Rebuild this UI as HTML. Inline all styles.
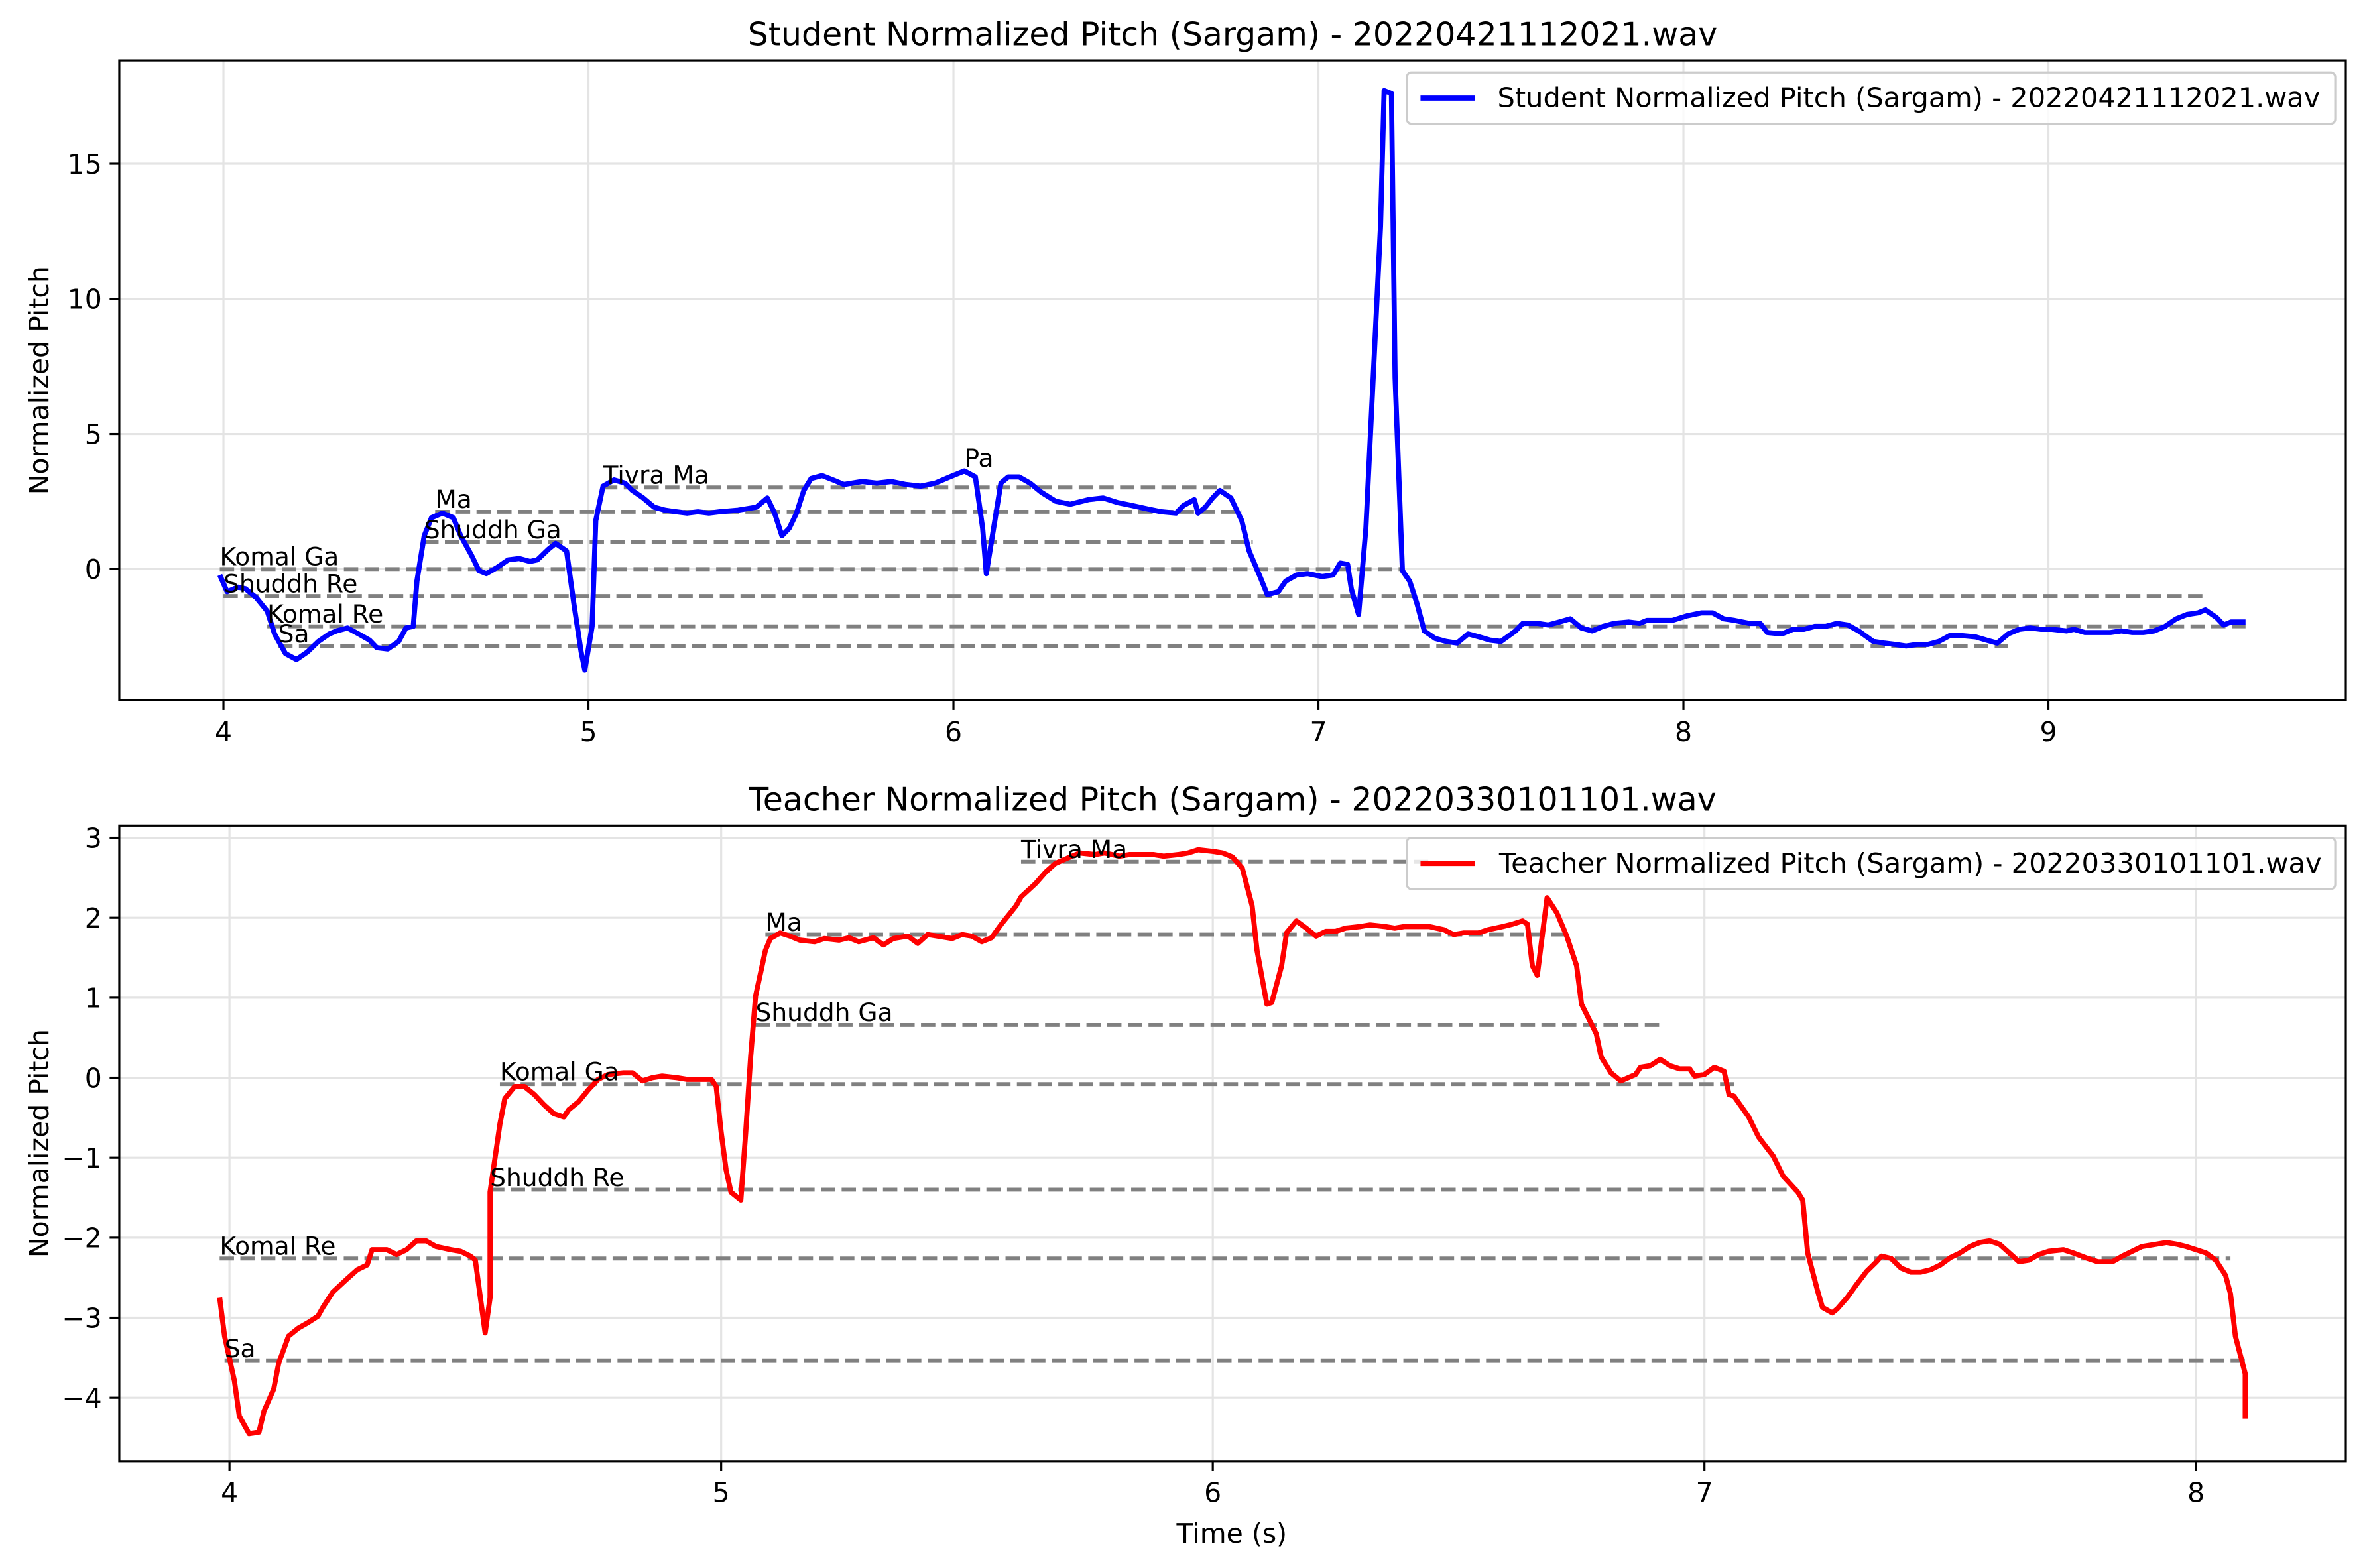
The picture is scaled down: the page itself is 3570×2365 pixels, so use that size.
<!DOCTYPE html>
<html><head><meta charset="utf-8"><style>
html,body{margin:0;padding:0;background:#fff;}
svg{display:block;font-family:"DejaVu Sans","Liberation Sans",sans-serif;}
</style></head><body>
<svg id="chart" width="3570" height="2365" viewBox="0 0 1568 1038.8" xmlns="http://www.w3.org/2000/svg">
<rect x="0" y="0" width="1568" height="1039" fill="#fff"/>
</svg>
<script>
// ---- Student data ----
const studentTime = [3.99,4.01,4.04,4.06,4.09,4.12,4.14,4.17,4.20,4.23,4.26,4.29,4.31,4.34,4.37,4.40,4.42,4.45,4.48,4.50,4.52,4.53,4.55,4.57,4.60,4.63,4.65,4.68,4.70,4.72,4.75,4.78,4.81,4.84,4.86,4.89,4.91,4.94,4.96,4.98,4.99,5.01,5.02,5.04,5.07,5.10,5.12,5.15,5.18,5.21,5.24,5.27,5.30,5.33,5.36,5.41,5.46,5.49,5.51,5.53,5.55,5.57,5.59,5.61,5.64,5.67,5.70,5.75,5.79,5.83,5.87,5.91,5.95,5.99,6.03,6.06,6.08,6.09,6.11,6.13,6.15,6.18,6.21,6.24,6.28,6.32,6.37,6.41,6.45,6.49,6.53,6.57,6.61,6.63,6.66,6.67,6.69,6.71,6.73,6.76,6.79,6.81,6.84,6.86,6.89,6.91,6.94,6.97,7.01,7.04,7.06,7.08,7.09,7.11,7.13,7.15,7.17,7.18,7.20,7.21,7.23,7.25,7.27,7.29,7.32,7.35,7.38,7.41,7.44,7.47,7.50,7.54,7.56,7.60,7.63,7.66,7.69,7.72,7.75,7.78,7.81,7.85,7.88,7.90,7.94,7.97,8.01,8.05,8.08,8.11,8.14,8.18,8.21,8.23,8.27,8.30,8.33,8.36,8.39,8.42,8.45,8.48,8.52,8.55,8.58,8.61,8.64,8.67,8.70,8.73,8.76,8.80,8.83,8.86,8.89,8.92,8.95,8.98,9.01,9.05,9.07,9.10,9.14,9.17,9.20,9.23,9.26,9.29,9.32,9.35,9.38,9.41,9.43,9.46,9.48,9.50,9.54];
const studentPitch = [-0.22,-0.84,-0.67,-0.73,-1.06,-1.56,-2.40,-3.13,-3.35,-3.07,-2.68,-2.40,-2.29,-2.18,-2.40,-2.63,-2.91,-2.96,-2.68,-2.18,-2.12,-0.45,1.23,1.90,2.07,1.90,1.23,0.50,-0.06,-0.17,0.06,0.34,0.39,0.28,0.34,0.73,0.95,0.67,-1.28,-3.07,-3.74,-2.12,1.79,3.07,3.30,3.18,2.91,2.63,2.29,2.18,2.12,2.07,2.12,2.07,2.12,2.18,2.29,2.63,2.07,1.23,1.51,2.07,2.91,3.35,3.46,3.30,3.13,3.24,3.18,3.24,3.13,3.07,3.18,3.41,3.63,3.41,1.51,-0.17,1.51,3.18,3.41,3.41,3.18,2.85,2.51,2.40,2.57,2.63,2.46,2.35,2.23,2.12,2.07,2.35,2.57,2.07,2.29,2.63,2.91,2.63,1.79,0.67,-0.28,-0.95,-0.84,-0.45,-0.22,-0.17,-0.28,-0.22,0.22,0.17,-0.73,-1.68,1.51,7.09,12.68,17.71,17.60,7.09,-0.06,-0.45,-1.28,-2.29,-2.57,-2.68,-2.74,-2.40,-2.51,-2.63,-2.68,-2.29,-2.01,-2.01,-2.07,-1.96,-1.84,-2.18,-2.29,-2.12,-2.01,-1.96,-2.01,-1.90,-1.90,-1.90,-1.73,-1.62,-1.62,-1.84,-1.90,-2.01,-2.01,-2.35,-2.40,-2.23,-2.23,-2.12,-2.12,-2.01,-2.07,-2.29,-2.68,-2.74,-2.79,-2.85,-2.79,-2.79,-2.68,-2.46,-2.46,-2.51,-2.63,-2.74,-2.40,-2.23,-2.18,-2.23,-2.23,-2.29,-2.23,-2.35,-2.35,-2.35,-2.29,-2.35,-2.35,-2.29,-2.12,-1.84,-1.68,-1.62,-1.51,-1.79,-2.07,-1.96,-1.96];
const studentNoteNames = ["Komal Ga","Shuddh Re","Komal Re","Sa","Ma","Shuddh Ga","Tivra Ma","Pa"];
const studentNoteValues = [0.0,-1.0,-2.12,-2.85,2.12,1.0,3.02,3.65];
const studentNoteStart = [3.99,4.00,4.12,4.15,4.58,4.55,5.04,6.03];
const studentNoteEnd = [7.23,9.43,9.54,8.89,6.79,6.82,6.76,6.03];
const studentXTicks = [4,5,6,7,8,9];
const studentYTicks = [0,5,10,15];

// ---- Teacher data ----
const teacherTime = [3.98,3.99,4.01,4.02,4.04,4.06,4.07,4.09,4.10,4.12,4.14,4.16,4.18,4.19,4.21,4.24,4.26,4.28,4.29,4.32,4.34,4.36,4.38,4.40,4.42,4.45,4.47,4.49,4.50,4.52,4.53,4.53,4.55,4.56,4.58,4.60,4.62,4.64,4.66,4.68,4.69,4.71,4.73,4.75,4.77,4.80,4.82,4.84,4.86,4.88,4.91,4.93,4.95,4.98,4.99,5.00,5.01,5.02,5.04,5.05,5.06,5.07,5.09,5.10,5.12,5.14,5.16,5.19,5.21,5.24,5.26,5.28,5.31,5.33,5.35,5.38,5.40,5.42,5.44,5.47,5.49,5.51,5.53,5.55,5.57,5.60,5.61,5.64,5.66,5.68,5.71,5.73,5.76,5.78,5.81,5.83,5.85,5.88,5.90,5.93,5.95,5.97,6.00,6.02,6.04,6.06,6.08,6.09,6.11,6.12,6.14,6.15,6.17,6.19,6.21,6.23,6.25,6.27,6.30,6.32,6.35,6.37,6.39,6.42,6.44,6.47,6.49,6.51,6.54,6.56,6.59,6.61,6.63,6.64,6.65,6.66,6.67,6.68,6.70,6.72,6.74,6.75,6.78,6.79,6.81,6.83,6.86,6.87,6.89,6.91,6.93,6.95,6.97,6.98,7.00,7.02,7.04,7.05,7.06,7.09,7.11,7.14,7.16,7.19,7.20,7.21,7.23,7.24,7.26,7.27,7.29,7.31,7.33,7.35,7.36,7.38,7.40,7.42,7.44,7.46,7.48,7.50,7.52,7.54,7.56,7.58,7.60,7.62,7.64,7.66,7.68,7.70,7.73,7.75,7.78,7.80,7.83,7.85,7.87,7.89,7.92,7.94,7.96,7.98,8.00,8.02,8.04,8.06,8.07,8.08,8.10,8.10];
const teacherPitch = [-2.75,-3.23,-3.79,-4.23,-4.45,-4.43,-4.17,-3.89,-3.57,-3.23,-3.13,-3.06,-2.98,-2.87,-2.68,-2.51,-2.40,-2.34,-2.15,-2.15,-2.21,-2.15,-2.04,-2.04,-2.11,-2.15,-2.17,-2.23,-2.28,-3.19,-2.75,-1.43,-0.58,-0.26,-0.11,-0.11,-0.21,-0.34,-0.45,-0.49,-0.40,-0.30,-0.15,-0.02,0.04,0.06,0.06,-0.04,0.00,0.02,0.00,-0.02,-0.02,-0.02,-0.11,-0.68,-1.15,-1.43,-1.53,-0.68,0.26,1.02,1.59,1.74,1.81,1.77,1.72,1.70,1.74,1.72,1.75,1.70,1.75,1.66,1.74,1.77,1.68,1.79,1.77,1.74,1.79,1.77,1.70,1.75,1.92,2.15,2.26,2.43,2.57,2.68,2.76,2.81,2.79,2.81,2.77,2.79,2.79,2.79,2.77,2.79,2.81,2.85,2.83,2.81,2.76,2.62,2.15,1.59,0.92,0.94,1.40,1.81,1.96,1.87,1.77,1.83,1.83,1.87,1.89,1.91,1.89,1.87,1.89,1.89,1.89,1.85,1.79,1.81,1.81,1.85,1.89,1.92,1.96,1.92,1.40,1.28,1.77,2.25,2.06,1.77,1.40,0.92,0.55,0.26,0.06,-0.04,0.04,0.13,0.15,0.23,0.15,0.11,0.11,0.02,0.04,0.13,0.08,-0.21,-0.23,-0.49,-0.74,-0.98,-1.23,-1.43,-1.53,-2.19,-2.66,-2.87,-2.94,-2.89,-2.75,-2.58,-2.42,-2.30,-2.23,-2.26,-2.38,-2.43,-2.43,-2.40,-2.34,-2.25,-2.19,-2.11,-2.06,-2.04,-2.08,-2.19,-2.30,-2.28,-2.21,-2.17,-2.15,-2.19,-2.26,-2.30,-2.30,-2.23,-2.17,-2.11,-2.08,-2.06,-2.08,-2.11,-2.15,-2.19,-2.28,-2.47,-2.70,-3.23,-3.70,-4.26];
const teacherNoteNames = ["Tivra Ma","Ma","Shuddh Ga","Komal Ga","Shuddh Re","Komal Re","Sa"];
const teacherNoteValues = [2.70,1.79,0.66,-0.08,-1.40,-2.26,-3.54];
const teacherNoteStart = [5.61,5.09,5.07,4.55,4.53,3.98,3.99];
const teacherNoteEnd = [6.45,6.73,6.91,7.07,7.19,8.07,8.10];
const teacherXTicks = [4,5,6,7,8];
const teacherYTicks = [-4,-3,-2,-1,0,1,2,3];

const NS = "http://www.w3.org/2000/svg";
const svg = document.getElementById('chart');
function mk(tag, attrs, parent, text){
  const e = document.createElementNS(NS, tag);
  for (const k in attrs) e.setAttribute(k, attrs[k]);
  if (text !== undefined) e.textContent = text;
  (parent||svg).appendChild(e);
  return e;
}
function fmt(v){ return v < 0 ? '\u2212' + Math.abs(v) : String(v); }

function drawPanel(cfg){
  const L = 79, R = 1554, T = cfg.top, B = cfg.bottom;
  const xs = t => cfg.x0 + (t - cfg.tRef) * cfg.xPer;
  const ys = v => cfg.y0 - v * cfg.yPer;
  const g = mk('g', {});
  
  
  const clipId = cfg.name + '-clip';
  const cp = mk('clipPath', {id: clipId}, g);
  mk('rect', {x: L, y: T, width: R - L, height: B - T}, cp);
  cfg.xTicks.forEach(t => {
    const l = mk('line', {x1: xs(t), x2: xs(t), y1: T, y2: B, stroke: '#e4e4e4', 'stroke-width': 1.4}, g);
    
    
  });
  cfg.yTicks.forEach(v => {
    const l = mk('line', {x1: L, x2: R, y1: ys(v), y2: ys(v), stroke: '#e4e4e4', 'stroke-width': 1.4}, g);
    
    
  });
  const cg = mk('g', {'clip-path': 'url(#' + clipId + ')'}, g);
  cfg.noteNames.forEach((n, i) => {
    const y = ys(cfg.noteValues[i]);
    const x1 = xs(cfg.noteStart[i]), x2 = xs(cfg.noteEnd[i]);
    if (x2 > x1) {
      const l = mk('line', {x1: x1, x2: x2, y1: y, y2: y, stroke: '#808080', 'stroke-width': 2.6, 'stroke-dasharray': '9.5,4.2'}, cg);
      
      
    }
    const tx = mk('text', {x: x1, y: y - 2.5, 'font-size': 16.5, fill: '#000'}, g, n);
    
    
  });
  let d = '';
  cfg.time.forEach((t, i) => { d += (i ? 'L' : 'M') + xs(t).toFixed(2) + ',' + ys(cfg.pitch[i]).toFixed(2); });
  const p = mk('path', {d: d, fill: 'none', stroke: cfg.color, 'stroke-width': 3.4, 'stroke-linejoin': 'round', 'stroke-linecap': 'butt'}, cg);
  
  
  const fr = mk('rect', {x: L, y: T, width: R - L, height: B - T, fill: 'none', stroke: '#000', 'stroke-width': 1.4}, g);
  
  
  cfg.xTicks.forEach(t => {
    mk('line', {x1: xs(t), x2: xs(t), y1: B, y2: B + 6.4, stroke: '#000', 'stroke-width': 1.4}, g);
    const tx = mk('text', {x: xs(t), y: B + 27, 'font-size': 18, 'text-anchor': 'middle'}, g, fmt(t));
    
    
  });
  cfg.yTicks.forEach(v => {
    mk('line', {x1: L - 6.4, x2: L, y1: ys(v), y2: ys(v), stroke: '#000', 'stroke-width': 1.4}, g);
    const tx = mk('text', {x: L - 11.5, y: ys(v) + 6.5, 'font-size': 18, 'text-anchor': 'end'}, g, fmt(v));
    
    
  });
  const ti = mk('text', {x: (L + R) / 2, y: T - 10, 'font-size': 21.5, 'text-anchor': 'middle'}, g, cfg.title);
  
  
  const yl = mk('text', {x: 0, y: 0, 'font-size': 18, 'text-anchor': 'middle', transform: 'translate(32,' + ((T + B) / 2) + ') rotate(-90)'}, g, 'Normalized Pitch');
  
  
  const lg = mk('g', {}, g);
  
  
  mk('rect', {x: 932, y: T + 8, width: 615, height: 34, rx: 3, fill: '#fff', 'fill-opacity': 0.8, stroke: '#cccccc', 'stroke-width': 1.4}, lg);
  mk('line', {x1: 941, x2: 977, y1: T + 25, y2: T + 25, stroke: cfg.color, 'stroke-width': 3.4}, lg);
  const lt = mk('text', {x: cfg.legendX, y: T + 31, 'font-size': 18, textLength: 545, lengthAdjust: 'spacingAndGlyphs'}, lg, cfg.title);
  
  
}

drawPanel({name: 'student', top: 40, bottom: 464, tRef: 4, x0: 148, xPer: 241.8, y0: 377, yPer: 17.9,
  time: studentTime, pitch: studentPitch, color: '#0000ff',
  noteNames: studentNoteNames, noteValues: studentNoteValues, noteStart: studentNoteStart, noteEnd: studentNoteEnd,
  xTicks: studentXTicks, yTicks: studentYTicks, legendX: 992,
  title: 'Student Normalized Pitch (Sargam) - 20220421112021.wav'});
drawPanel({name: 'teacher', top: 547, bottom: 968, tRef: 4, x0: 152, xPer: 325.7, y0: 714, yPer: 53,
  time: teacherTime, pitch: teacherPitch, color: '#ff0000',
  noteNames: teacherNoteNames, noteValues: teacherNoteValues, noteStart: teacherNoteStart, noteEnd: teacherNoteEnd,
  xTicks: teacherXTicks, yTicks: teacherYTicks, legendX: 993,
  title: 'Teacher Normalized Pitch (Sargam) - 20220330101101.wav'});

const xl = mk('text', {x: 816, y: 1022, 'font-size': 18, 'text-anchor': 'middle'}, svg, 'Time (s)');


</script>
</body></html>
